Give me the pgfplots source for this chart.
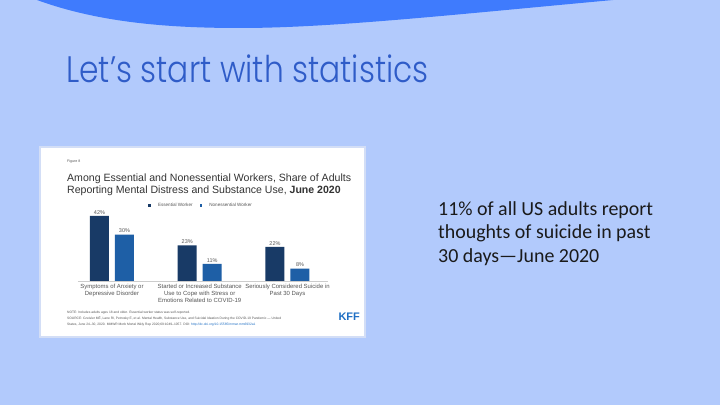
\documentclass[border=0pt]{standalone}
\usepackage{pgfplots}
\pgfplotsset{compat=1.18}
\usepackage{pgfplotstable}
\usepackage{fontspec}
\setmainfont{Liberation Sans}
\newfontfamily\carlito{Carlito}
\newfontfamily\titlefont{Poppins Light}
\definecolor{bg}{HTML}{B2CAFC}
\definecolor{blob}{HTML}{3F7BFD}
\definecolor{titlec}{HTML}{2F5CC8}
\definecolor{bodyc}{HTML}{1A1A1A}
\definecolor{boxborder}{HTML}{D3DEF6}
\definecolor{ess}{HTML}{183A66}
\definecolor{non}{HTML}{1E5FA6}
\definecolor{kff}{HTML}{1F6FC4}
\definecolor{chartgray}{HTML}{333333}
\definecolor{lblgray}{HTML}{555555}

\pgfplotstableread{
x ess non
0 42 30
1 23 11
2 22 8
}\kffdata

\begin{document}
\begin{tikzpicture}[x=1bp,y=1bp]
\fill[bg] (0,0) rectangle (720,405);
\useasboundingbox (0,0) rectangle (720,405);
\fill[blob] (37,405) .. controls (100,382) and (170,377) .. (240,377) .. controls (330,377) and (450,390) .. (613,405) -- cycle;
\node[anchor=base west, inner sep=0, text=titlec, font=\titlefont\fontsize{37}{40}\selectfont] at (66,323) {\scalebox{0.85}[1]{Let’s start with statistics}};

\node[anchor=base west, inner sep=0, text=bodyc, font=\carlito\fontsize{20}{22}\selectfont] at (438,190) {11\% of all US adults report};
\node[anchor=base west, inner sep=0, text=bodyc, font=\carlito\fontsize{20}{22}\selectfont] at (438,166.5) {thoughts of suicide in past};
\node[anchor=base west, inner sep=0, text=bodyc, font=\carlito\fontsize{20}{22}\selectfont] at (438,143) {30 days—June 2020};

\filldraw[fill=white, draw=boxborder, line width=1.2] (40,68) rectangle (365,258);
\node[anchor=base west, inner sep=0, text=lblgray, font=\fontsize{3.6}{4}\selectfont] at (67,243) {Figure 8};
\node[anchor=base west, inner sep=0, text=chartgray, font=\fontsize{10.6}{12}\selectfont] at (67,224) {Among Essential and Nonessential Workers, Share of Adults};
\node[anchor=base west, inner sep=0, text=chartgray, font=\fontsize{10.6}{12}\selectfont] at (67,212) {Reporting Mental Distress and Substance Use, \textbf{June 2020}};

\node[anchor=base west, inner sep=0, text=lblgray, font=\fontsize{3.3}{4}\selectfont] at (67,92) {NOTE: Includes adults ages 18 and older. Essential worker status was self-reported.};
\node[anchor=base west, inner sep=0, text=lblgray, font=\fontsize{3.3}{4}\selectfont] at (67,86) {SOURCE: Czeisler MÉ, Lane RI, Petrosky E, et al. Mental Health, Substance Use, and Suicidal Ideation During the COVID-19 Pandemic — United};
\node[anchor=base west, inner sep=0, text=lblgray, font=\fontsize{3.3}{4}\selectfont] at (67,80) {States, June 24–30, 2020. MMWR Morb Mortal Wkly Rep 2020;69:1049–1057. DOI: \textcolor{kff}{http://dx.doi.org/10.15585/mmwr.mm6932a1}};
\node[anchor=base east, inner sep=0, text=kff, font=\bfseries\fontsize{11}{12}\selectfont] at (360,85) {KFF};

\begin{axis}[
  at={(68.1bp,124bp)}, anchor=south west,
  scale only axis, width=263.25bp, height=65.1bp,
  xmin=-0.5, xmax=2.5, ymin=0, ymax=42,
  clip=false,
  ybar=6bp, bar width=19bp,
  axis line style={draw=none},
  ytick=\empty,
  xtick={0,1,2},
  xticklabels={{Symptoms of Anxiety or\\Depressive Disorder},{Started or Increased Substance\\Use to Cope with Stress or\\Emotions Related to COVID-19},{Seriously Considered Suicide in\\Past 30 Days}},
  major tick length=0pt,
  xticklabel style={align=center, text=lblgray, font=\fontsize{6}{7.2}\selectfont, inner sep=1.5bp, yshift=-1.5bp},
  /pgf/number format/assume math mode=true,
  nodes near coords={\pgfmathprintnumber{\pgfplotspointmeta}\%},
  every node near coord/.append style={text=lblgray, font=\fontsize{5.5}{6}\selectfont, inner sep=1.5bp},
  legend columns=2,
  legend style={at={(0.505,1.154)}, anchor=center, draw=none, fill=none, font=\fontsize{4.6}{5}\selectfont, text=lblgray, inner sep=0pt, column sep=5bp},
  legend image code/.code={\fill[#1] (0bp,-1.4bp) rectangle (2.8bp,1.4bp);},
]
\addplot[fill=ess, draw=none] table[x=x, y=ess] {\kffdata};
\addplot[fill=non, draw=none] table[x=x, y=non] {\kffdata};
\legend{Essential Worker, Nonessential Worker}
\draw[gray!40, line width=0.5bp] (axis cs:-0.39,0) -- (axis cs:2.46,0);
\end{axis}
\end{tikzpicture}
\end{document}
